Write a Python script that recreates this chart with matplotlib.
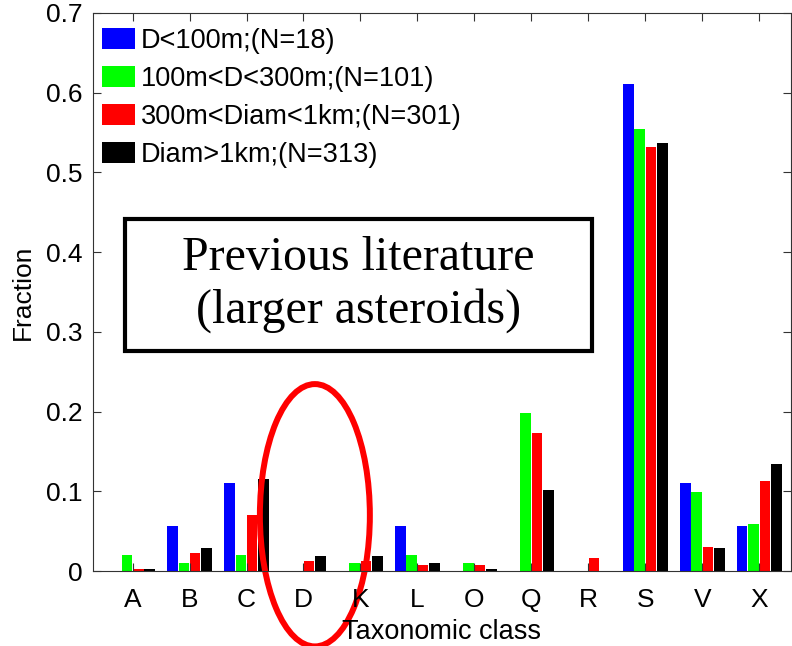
"""Taxonomic class fractions by asteroid size bin."""

import matplotlib

matplotlib.use("Agg")
import matplotlib.pyplot as plt
import numpy as np
from matplotlib.patches import Ellipse, Rectangle

classes = ["A", "B", "C", "D", "K", "L", "O", "Q", "R", "S", "V", "X"]
series_labels = [
    "D<100m;(N=18)",
    "100m<D<300m;(N=101)",
    "300m<Diam<1km;(N=301)",
    "Diam>1km;(N=313)",
]
frac_lt100 = [0.0, 0.056, 0.111, 0.0, 0.0, 0.056, 0.0, 0.0, 0.0, 0.611, 0.111, 0.056]
frac_100_300 = [0.020, 0.010, 0.020, 0.0, 0.010, 0.020, 0.010, 0.198, 0.0, 0.554, 0.099, 0.059]
frac_300_1k = [0.003, 0.023, 0.070, 0.013, 0.013, 0.007, 0.007, 0.173, 0.017, 0.532, 0.030, 0.113]
frac_gt1k = [0.003, 0.029, 0.115, 0.019, 0.019, 0.010, 0.003, 0.102, 0.0, 0.537, 0.029, 0.134]
colors = ["#0000ff", "#00ff00", "#ff0000", "#000000"]

plt.rcParams["font.family"] = ["Liberation Sans", "DejaVu Sans"]
plt.rcParams["font.size"] = 19

fig = plt.figure(figsize=(7.92, 6.46), dpi=100)
ax = fig.add_axes([0.117, 0.116, 0.882, 0.864])

x = np.arange(1, len(classes) + 1)
step = 0.2
width = 0.185
all_series = [frac_lt100, frac_100_300, frac_300_1k, frac_gt1k]
for i, (vals, label, color) in enumerate(zip(all_series, series_labels, colors)):
    ax.bar(x + (i - 1.5) * step, vals, width, color=color, label=label,
           edgecolor="none")

ax.set_xlim(0.3, 12.56)
ax.set_ylim(0, 0.7)
ax.set_xticks(x)
ax.set_xticklabels(classes)
ax.set_yticks(np.arange(0, 0.71, 0.1))
ax.set_yticklabels(["0", "0.1", "0.2", "0.3", "0.4", "0.5", "0.6", "0.7"])
ax.tick_params(direction="in", length=6, width=0.8, top=True, right=True,
               colors="#333333", labelcolor="black")
ax.tick_params(axis="x", pad=12)
ax.tick_params(axis="y", pad=7)
for sp in ax.spines.values():
    sp.set_linewidth(0.8)
    sp.set_color("#333333")

ax.set_xlabel("Taxonomic class", fontsize=19.5, labelpad=5)
ax.set_ylabel("Fraction", labelpad=8)

ax.legend(loc="upper left", bbox_to_anchor=(0.0, 0.99), frameon=False,
          handlelength=1.21, handleheight=0.8, handletextpad=0.23,
          labelspacing=0.44, borderpad=0.35, borderaxespad=0.0,
          fontsize=19.5)

# annotation box
ax.add_patch(Rectangle((0.046, 0.394), 0.669, 0.237, transform=ax.transAxes,
                       fill=False, edgecolor="black", linewidth=3))
ax.text(0.38, 0.513, "Previous literature\n(larger asteroids)",
        transform=ax.transAxes, ha="center", va="center",
        family=["Liberation Serif", "DejaVu Serif"], fontsize=34.5,
        linespacing=1.25)

# red ellipse around D
ax.add_patch(Ellipse((4.2, 0.070), 1.93, 0.329, fill=False,
                     edgecolor="#ff0000", linewidth=4.3, clip_on=False))

fig.savefig("out.png", dpi=100)
plt.close(fig)
